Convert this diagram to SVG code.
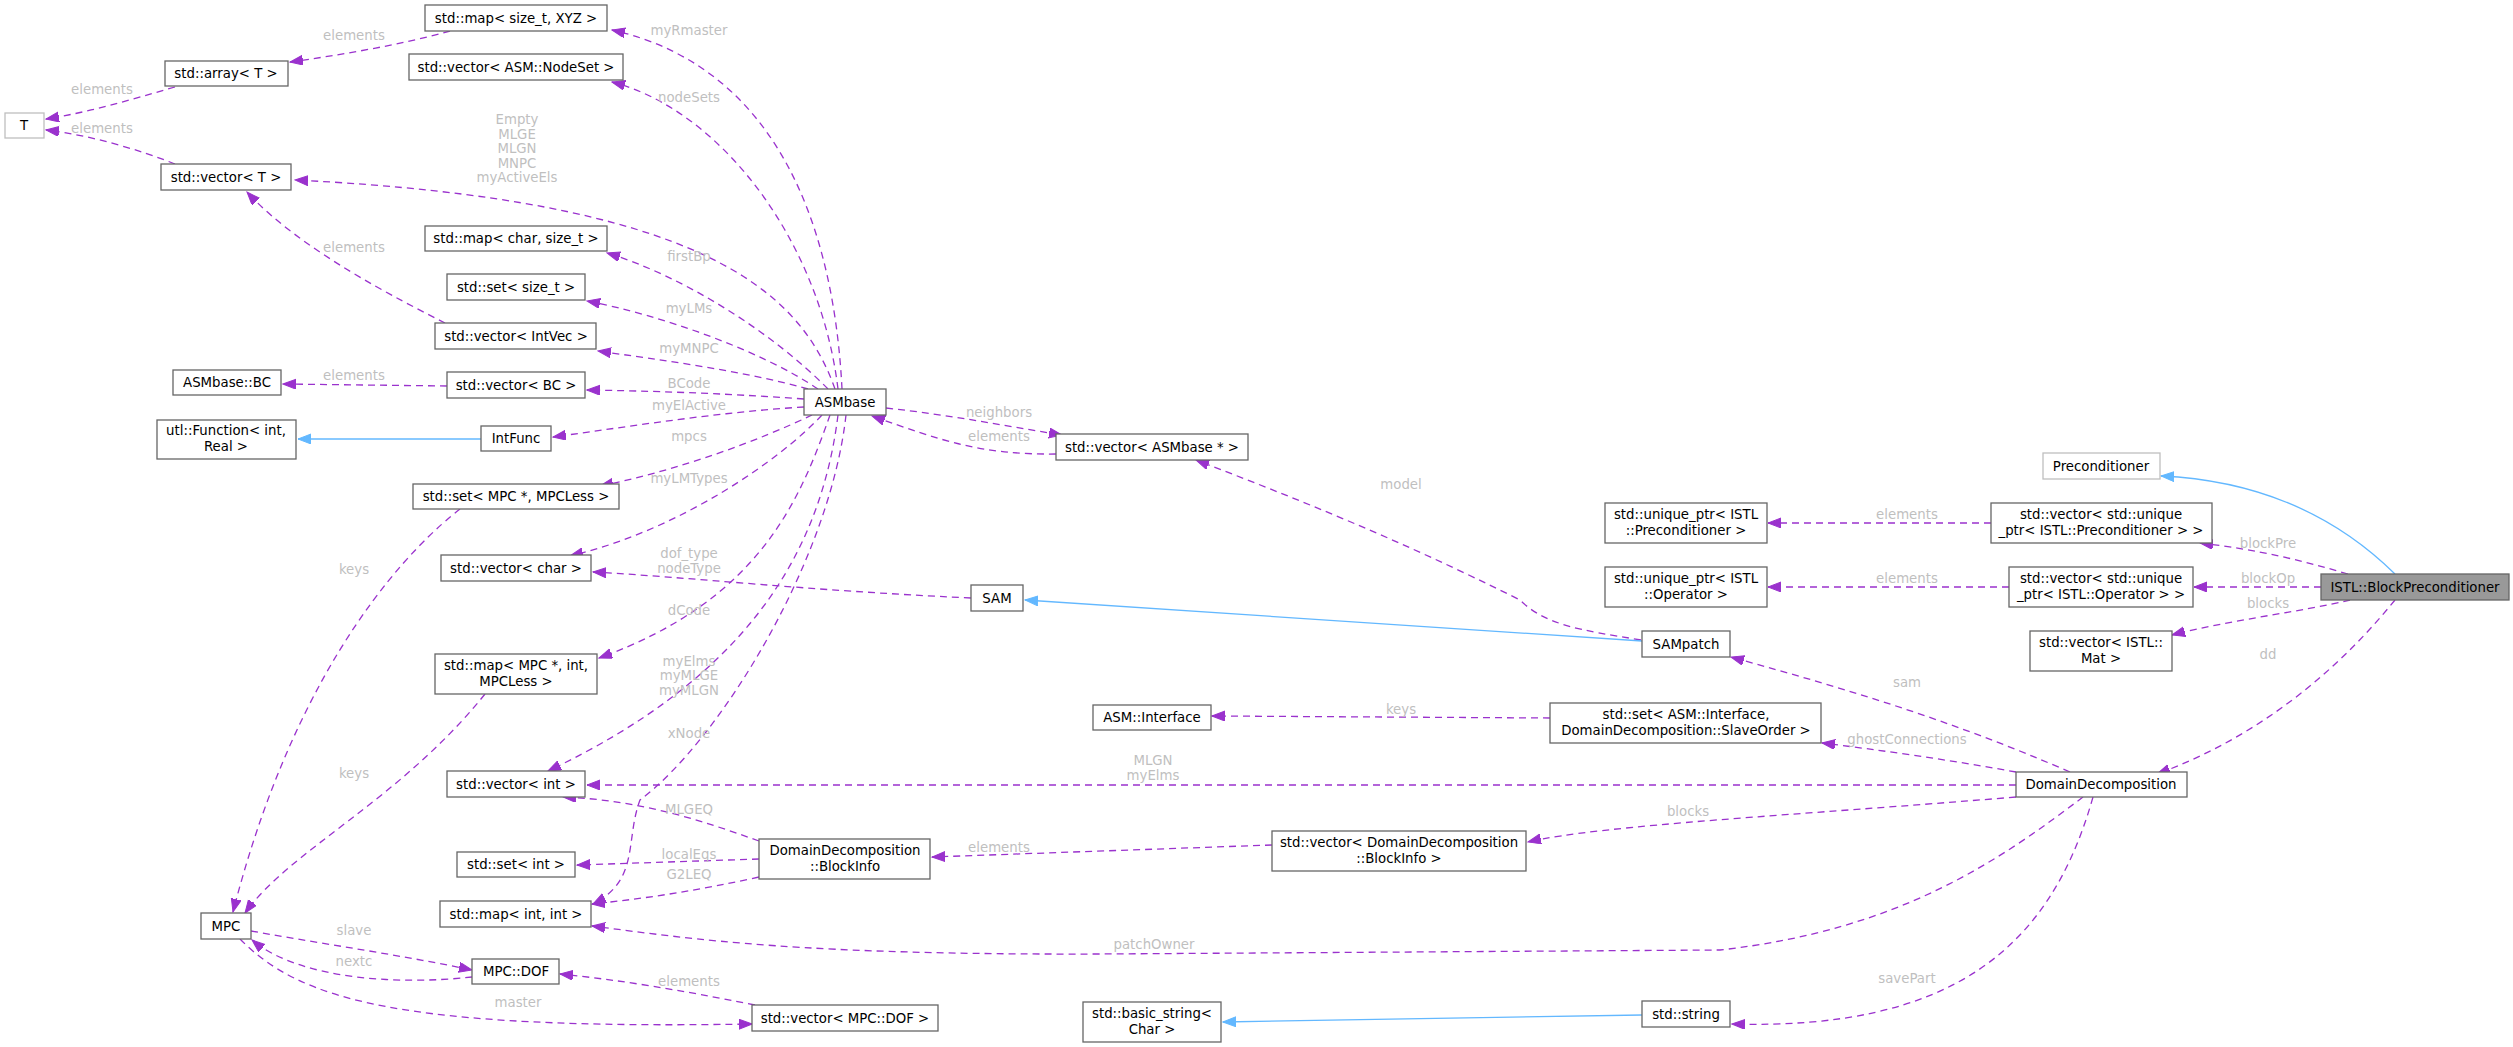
<svg xmlns="http://www.w3.org/2000/svg" width="2513" height="1047" viewBox="0 0 2513 1047">
<style>
.n rect{fill:#fff;stroke:#666;stroke-width:1.3}
.n.g rect{stroke:#bfbfbf}
.n.f rect{fill:#999;stroke:#666}
text{font-family:"DejaVu Sans","Liberation Sans",sans-serif;font-size:13.3px}
.n text{fill:#000;text-anchor:middle}
.l{fill:#bfbfbf;text-anchor:middle}
.e path{fill:none;stroke:#9a32cd;stroke-width:1.3;stroke-dasharray:7,5}
.e path.i{stroke:#63b8ff;stroke-dasharray:none}
</style>
<defs>
<marker id="a" markerUnits="userSpaceOnUse" markerWidth="14" markerHeight="12" refX="13" refY="5" orient="auto"><path d="M0,0 L13,5 L0,10 Z" fill="#9a32cd" stroke="#9a32cd"/></marker>
<marker id="b" markerUnits="userSpaceOnUse" markerWidth="14" markerHeight="12" refX="13" refY="5" orient="auto"><path d="M0,0 L13,5 L0,10 Z" fill="#63b8ff" stroke="#63b8ff"/></marker>
</defs>
<rect width="2513" height="1047" fill="#fff"/>
<g class="e" id="edges">
<path d="M842,389 C835,250 790,70 612,30" marker-end="url(#a)"/>
<path d="M838,389 C820,240 720,110 612,82" marker-end="url(#a)"/>
<path d="M835,389 C800,290 700,200 295,180" marker-end="url(#a)"/>
<path d="M828,389 C770,330 680,275 607,253" marker-end="url(#a)"/>
<path d="M818,389 C760,350 660,315 587,301" marker-end="url(#a)"/>
<path d="M808,389 C740,370 660,360 598,351" marker-end="url(#a)"/>
<path d="M804,399 C720,393 650,391 587,390" marker-end="url(#a)"/>
<path d="M804,407 C720,412 640,425 553,437" marker-end="url(#a)"/>
<path d="M812,415 C760,440 680,470 600,486" marker-end="url(#a)"/>
<path d="M822,415 C780,460 680,530 570,556" marker-end="url(#a)"/>
<path d="M971,598 C800,590 700,578 593,572" marker-end="url(#a)"/>
<path d="M830,415 C800,500 760,600 599,658" marker-end="url(#a)"/>
<path d="M838,415 C820,560 740,680 548,771" marker-end="url(#a)"/>
<path d="M846,415 C830,560 720,740 640,800 C625,840 640,880 593,904" marker-end="url(#a)"/>
<path d="M886,408 C950,415 1000,425 1062,435" marker-end="url(#a)"/>
<path d="M1056,454 C980,455 940,440 872,416" marker-end="url(#a)"/>
<path d="M1641,640 C1580,630 1545,625 1520,600 C1400,540 1300,500 1196,460" marker-end="url(#a)"/>
<path class="i" d="M1642,641 L1025,600" marker-end="url(#b)"/>
<path class="i" d="M481,439 L298,439" marker-end="url(#b)"/>
<path d="M447,386 L283,384" marker-end="url(#a)"/>
<path d="M445,323 C400,300 300,250 247,192" marker-end="url(#a)"/>
<path d="M175,164 C140,150 90,135 46,130" marker-end="url(#a)"/>
<path d="M175,87 C130,100 90,112 46,119" marker-end="url(#a)"/>
<path d="M450,31 C400,45 340,55 290,62" marker-end="url(#a)"/>
<path d="M460,509 C420,540 300,650 233,912" marker-end="url(#a)"/>
<path d="M485,694 C400,800 290,850 245,913" marker-end="url(#a)"/>
<path d="M1272,845 L932,857" marker-end="url(#a)"/>
<path d="M759,841 C700,820 640,800 563,797" marker-end="url(#a)"/>
<path d="M759,859 L577,865" marker-end="url(#a)"/>
<path d="M759,877 C700,890 650,898 592,904" marker-end="url(#a)"/>
<path d="M251,931 C330,945 400,955 472,970" marker-end="url(#a)"/>
<path d="M472,977 C400,985 300,980 252,940" marker-end="url(#a)"/>
<path d="M240,939 C300,1000 400,1030 752,1024" marker-end="url(#a)"/>
<path d="M755,1005 C680,990 620,980 560,974" marker-end="url(#a)"/>
<path class="i" d="M1642,1015 L1223,1022" marker-end="url(#b)"/>
<path d="M2093,797 C2050,950 1950,1030 1732,1024" marker-end="url(#a)"/>
<path d="M2083,797 C2000,860 1900,930 1720,950 L1100,954 C800,955 700,940 592,926" marker-end="url(#a)"/>
<path d="M2016,785 L587,785" marker-end="url(#a)"/>
<path d="M2016,797 C1800,815 1600,825 1528,842" marker-end="url(#a)"/>
<path d="M2016,772 C1950,760 1880,750 1822,743" marker-end="url(#a)"/>
<path d="M2070,772 C1950,720 1850,690 1731,657" marker-end="url(#a)"/>
<path d="M1550,718 L1212,716" marker-end="url(#a)"/>
<path class="i" d="M2395,574 C2330,510 2250,480 2161,476" marker-end="url(#b)"/>
<path d="M2348,574 C2300,560 2260,550 2200,543" marker-end="url(#a)"/>
<path d="M2321,587 L2194,587" marker-end="url(#a)"/>
<path d="M2350,600 C2300,612 2230,620 2172,635" marker-end="url(#a)"/>
<path d="M2395,600 C2330,680 2250,740 2157,774" marker-end="url(#a)"/>
<path d="M1991,523 L1768,523" marker-end="url(#a)"/>
<path d="M2009,587 L1768,587" marker-end="url(#a)"/>
</g>
<g id="labels">
<text class="l" x="689" y="35">myRmaster</text>
<text class="l" x="354" y="40">elements</text>
<text class="l" x="102" y="94">elements</text>
<text class="l" x="102" y="133">elements</text>
<text class="l" x="689" y="102">nodeSets</text>
<text class="l" x="517" y="124">Empty</text>
<text class="l" x="517" y="139">MLGE</text>
<text class="l" x="517" y="153">MLGN</text>
<text class="l" x="517" y="168">MNPC</text>
<text class="l" x="517" y="182">myActiveEls</text>
<text class="l" x="354" y="252">elements</text>
<text class="l" x="689" y="261">firstBp</text>
<text class="l" x="689" y="313">myLMs</text>
<text class="l" x="689" y="353">myMNPC</text>
<text class="l" x="354" y="380">elements</text>
<text class="l" x="689" y="388">BCode</text>
<text class="l" x="689" y="410">myElActive</text>
<text class="l" x="689" y="441">mpcs</text>
<text class="l" x="689" y="483">myLMTypes</text>
<text class="l" x="354" y="574">keys</text>
<text class="l" x="689" y="558">dof_type</text>
<text class="l" x="689" y="573">nodeType</text>
<text class="l" x="689" y="615">dCode</text>
<text class="l" x="689" y="666">myElms</text>
<text class="l" x="689" y="680">myMLGE</text>
<text class="l" x="689" y="695">myMLGN</text>
<text class="l" x="689" y="738">xNode</text>
<text class="l" x="354" y="778">keys</text>
<text class="l" x="689" y="814">MLGEQ</text>
<text class="l" x="689" y="859">localEqs</text>
<text class="l" x="689" y="879">G2LEQ</text>
<text class="l" x="354" y="935">slave</text>
<text class="l" x="354" y="966">nextc</text>
<text class="l" x="689" y="986">elements</text>
<text class="l" x="518" y="1007">master</text>
<text class="l" x="999" y="417">neighbors</text>
<text class="l" x="999" y="441">elements</text>
<text class="l" x="1401" y="489">model</text>
<text class="l" x="1401" y="714">keys</text>
<text class="l" x="1153" y="765">MLGN</text>
<text class="l" x="1153" y="780">myElms</text>
<text class="l" x="1688" y="816">blocks</text>
<text class="l" x="999" y="852">elements</text>
<text class="l" x="1154" y="949">patchOwner</text>
<text class="l" x="1907" y="519">elements</text>
<text class="l" x="1907" y="583">elements</text>
<text class="l" x="2268" y="548">blockPre</text>
<text class="l" x="2268" y="583">blockOp</text>
<text class="l" x="2268" y="608">blocks</text>
<text class="l" x="2268" y="659">dd</text>
<text class="l" x="1907" y="687">sam</text>
<text class="l" x="1907" y="744">ghostConnections</text>
<text class="l" x="1907" y="983">savePart</text>
</g>
<g class="n" id="n_mapxyz"><rect x="425" y="5" width="182" height="26"/><text x="516" y="23">std::map&lt; size_t, XYZ &gt;</text></g>
<g class="n" id="n_nodeset"><rect x="409" y="54" width="214" height="26"/><text x="516" y="72">std::vector&lt; ASM::NodeSet &gt;</text></g>
<g class="n" id="n_array"><rect x="165" y="61" width="123" height="25"/><text x="226" y="78">std::array&lt; T &gt;</text></g>
<g class="n g" id="n_T"><rect x="5" y="113" width="39" height="25"/><text x="24" y="130">T</text></g>
<g class="n" id="n_vecT"><rect x="161" y="164" width="130" height="26"/><text x="226" y="182">std::vector&lt; T &gt;</text></g>
<g class="n" id="n_mapchar"><rect x="425" y="226" width="182" height="25"/><text x="516" y="243">std::map&lt; char, size_t &gt;</text></g>
<g class="n" id="n_setsize"><rect x="447" y="274" width="138" height="26"/><text x="516" y="292">std::set&lt; size_t &gt;</text></g>
<g class="n" id="n_intvec"><rect x="435" y="323" width="161" height="26"/><text x="516" y="341">std::vector&lt; IntVec &gt;</text></g>
<g class="n" id="n_bc"><rect x="173" y="370" width="108" height="25"/><text x="227" y="387">ASMbase::BC</text></g>
<g class="n" id="n_vecbc"><rect x="447" y="372" width="138" height="26"/><text x="516" y="390">std::vector&lt; BC &gt;</text></g>
<g class="n" id="n_asmbase"><rect x="804" y="389" width="82" height="26"/><text x="845" y="407">ASMbase</text></g>
<g class="n" id="n_func"><rect x="157" y="420" width="139" height="39"/><text x="226" y="435">utl::Function&lt; int,</text><text x="226" y="451">Real &gt;</text></g>
<g class="n" id="n_intfunc"><rect x="481" y="426" width="70" height="25"/><text x="516" y="443">IntFunc</text></g>
<g class="n" id="n_setmpc"><rect x="413" y="484" width="206" height="25"/><text x="516" y="501">std::set&lt; MPC *, MPCLess &gt;</text></g>
<g class="n" id="n_vecchar"><rect x="441" y="555" width="150" height="26"/><text x="516" y="573">std::vector&lt; char &gt;</text></g>
<g class="n" id="n_mapmpc"><rect x="435" y="654" width="162" height="40"/><text x="516" y="670">std::map&lt; MPC *, int,</text><text x="516" y="686">MPCLess &gt;</text></g>
<g class="n" id="n_vecint"><rect x="447" y="771" width="138" height="26"/><text x="516" y="789">std::vector&lt; int &gt;</text></g>
<g class="n" id="n_setint"><rect x="457" y="852" width="118" height="25"/><text x="516" y="869">std::set&lt; int &gt;</text></g>
<g class="n" id="n_mapint"><rect x="440" y="901" width="151" height="26"/><text x="516" y="919">std::map&lt; int, int &gt;</text></g>
<g class="n" id="n_mpc"><rect x="201" y="913" width="50" height="26"/><text x="226" y="931">MPC</text></g>
<g class="n" id="n_dof"><rect x="472" y="959" width="87" height="25"/><text x="516" y="976">MPC::DOF</text></g>
<g class="n" id="n_vecdof"><rect x="752" y="1005" width="186" height="26"/><text x="845" y="1023">std::vector&lt; MPC::DOF &gt;</text></g>
<g class="n" id="n_blockinfo"><rect x="759" y="839" width="171" height="40"/><text x="845" y="855">DomainDecomposition</text><text x="845" y="871">::BlockInfo</text></g>
<g class="n" id="n_vecasm"><rect x="1056" y="434" width="192" height="26"/><text x="1152" y="452">std::vector&lt; ASMbase * &gt;</text></g>
<g class="n" id="n_sam"><rect x="971" y="585" width="52" height="26"/><text x="997" y="603">SAM</text></g>
<g class="n" id="n_interface"><rect x="1093" y="705" width="118" height="25"/><text x="1152" y="722">ASM::Interface</text></g>
<g class="n" id="n_vecbi"><rect x="1272" y="831" width="254" height="40"/><text x="1399" y="847">std::vector&lt; DomainDecomposition</text><text x="1399" y="863">::BlockInfo &gt;</text></g>
<g class="n" id="n_basicstr"><rect x="1083" y="1002" width="138" height="40"/><text x="1152" y="1018">std::basic_string&lt;</text><text x="1152" y="1034">Char &gt;</text></g>
<g class="n" id="n_sampatch"><rect x="1642" y="631" width="88" height="26"/><text x="1686" y="649">SAMpatch</text></g>
<g class="n" id="n_setif"><rect x="1550" y="703" width="271" height="40"/><text x="1686" y="719">std::set&lt; ASM::Interface,</text><text x="1686" y="735">DomainDecomposition::SlaveOrder &gt;</text></g>
<g class="n" id="n_string"><rect x="1642" y="1001" width="88" height="26"/><text x="1686" y="1019">std::string</text></g>
<g class="n" id="n_uprec"><rect x="1605" y="503" width="162" height="40"/><text x="1686" y="519">std::unique_ptr&lt; ISTL</text><text x="1686" y="535">::Preconditioner &gt;</text></g>
<g class="n" id="n_uop"><rect x="1605" y="567" width="162" height="40"/><text x="1686" y="583">std::unique_ptr&lt; ISTL</text><text x="1686" y="599">::Operator &gt;</text></g>
<g class="n g" id="n_precond"><rect x="2043" y="453" width="117" height="26"/><text x="2101" y="471">Preconditioner</text></g>
<g class="n" id="n_vecuprec"><rect x="1991" y="503" width="221" height="40"/><text x="2101" y="519">std::vector&lt; std::unique</text><text x="2101" y="535">_ptr&lt; ISTL::Preconditioner &gt; &gt;</text></g>
<g class="n" id="n_vecuop"><rect x="2009" y="567" width="184" height="40"/><text x="2101" y="583">std::vector&lt; std::unique</text><text x="2101" y="599">_ptr&lt; ISTL::Operator &gt; &gt;</text></g>
<g class="n" id="n_vecmat"><rect x="2030" y="631" width="142" height="40"/><text x="2101" y="647">std::vector&lt; ISTL::</text><text x="2101" y="663">Mat &gt;</text></g>
<g class="n f" id="n_bp"><rect x="2321" y="574" width="188" height="26"/><text x="2415" y="592">ISTL::BlockPreconditioner</text></g>
<g class="n" id="n_dd"><rect x="2016" y="772" width="171" height="25"/><text x="2101" y="789">DomainDecomposition</text></g>
</svg>
